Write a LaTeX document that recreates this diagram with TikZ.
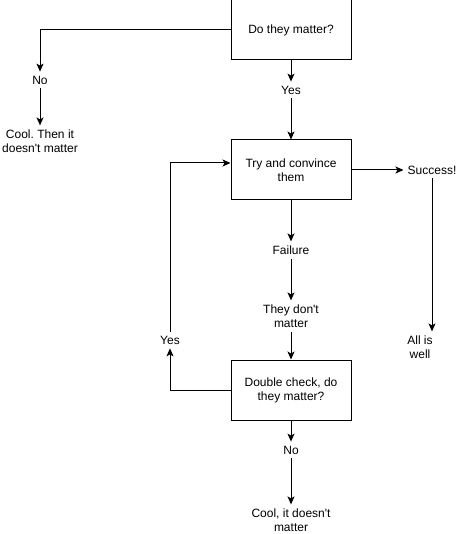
\documentclass[tikz,border=0pt]{standalone}
\usepackage{fontspec}
\setmainfont{Liberation Sans}
\usetikzlibrary{arrows.meta}
\frenchspacing

\begin{document}
\begin{tikzpicture}[x=1pt,y=-1pt,font=\fontsize{12}{14}\selectfont]
\tikzstyle{box}=[draw,line width=1pt,minimum width=120pt,minimum height=60pt,align=center]
\tikzstyle{lbl}=[align=center,inner sep=4pt]
\tikzstyle{arr}=[line width=1pt,-{Stealth[length=8pt,width=7pt,inset=2pt]}]
\useasboundingbox (0,0) rectangle (461,534);
% boxes
\node[box] (q1) at (291,30) {Do they matter?};
\node[box] (try) at (291,170) {Try and convince\\them};
\node[box] (q2) at (291,390) {Double check, do\\they matter?};
% labels
\node[lbl] (no1) at (40,80) {No};
\node[lbl] (cool1) at (40,141) {Cool. Then it\\doesn\textquotesingle t matter};
\node[lbl] (yes1) at (291,90) {Yes};
\node[lbl] (ok) at (432,170) {Success!};
\node[lbl] (well) at (420,347) {All is\\well};
\node[lbl] (fail) at (291,250) {Failure};
\node[lbl] (dont) at (291,316) {They don\textquotesingle t\\matter};
\node[lbl] (yes2) at (170,340) {Yes};
\node[lbl] (no2) at (291,450) {No};
\node[lbl] (cool2) at (291,520) {Cool, it doesn\textquotesingle t\\matter};
% connectors
\draw[arr] (q1.west) -| (no1);
\draw[arr] (no1) -- (cool1);
\draw[arr] (q1) -- (yes1);
\draw[arr] (yes1) -- (try);
\draw[arr] (try) -- (ok);
\draw[arr] (ok.south) -- (ok.south |- well.north);
\draw[arr] (try) -- (fail);
\draw[arr] (fail) -- (dont);
\draw[arr] (dont) -- (q2);
\draw[arr] (q2.west) -| (yes2);
\draw[arr] (yes2) |- ([yshift=7pt]try.west);
\draw[arr] (q2) -- (no2);
\draw[arr] (no2) -- (cool2);
\end{tikzpicture}
\end{document}
